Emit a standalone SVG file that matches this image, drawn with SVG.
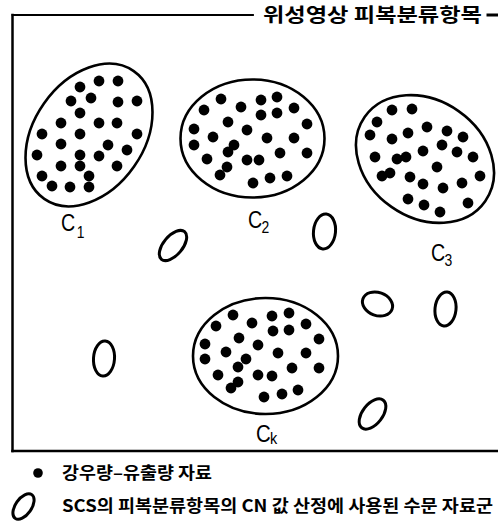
<svg xmlns="http://www.w3.org/2000/svg" width="498" height="530" viewBox="0 0 498 530">
<style>
.frame{stroke:#000;fill:none;stroke-linecap:square}
.big{fill:none;stroke:#000;stroke-width:2.6}
.small{fill:none;stroke:#000;stroke-width:3}
.dot{fill:#000}
.lbl{font-family:"Liberation Sans",Arial,sans-serif;font-size:24px;fill:#000}
.sub{font-size:17px}
.kr{font-family:"Noto Sans CJK KR","Noto Sans",sans-serif;font-weight:bold;fill:#000}
</style>
<defs>
<circle id="d" r="5.4" class="dot"/>
</defs>
<g id="frame">
<line class="frame" x1="12.5" y1="15" x2="12.5" y2="451" stroke-width="2.5"/>
<line class="frame" x1="12.5" y1="15" x2="253" y2="15" stroke-width="1.8"/>
<line class="frame" x1="12.5" y1="451" x2="498" y2="451" stroke-width="2.5"/>
<line class="frame" x1="488" y1="15" x2="497" y2="15" stroke-width="3"/>
<text class="kr" x="263" y="22" font-size="19" textLength="219" lengthAdjust="spacingAndGlyphs">위성영상 피복분류항목</text>
</g>
<g id="c1">
<ellipse class="big" cx="89" cy="135" rx="78" ry="55" transform="rotate(-55 89 135)"/>
<use href="#d" x="80" y="87"/><use href="#d" x="99" y="81"/><use href="#d" x="118" y="81"/>
<use href="#d" x="71" y="101"/><use href="#d" x="91" y="98"/><use href="#d" x="118" y="102"/><use href="#d" x="137" y="101"/>
<use href="#d" x="80" y="113"/><use href="#d" x="61" y="123"/><use href="#d" x="99" y="123"/><use href="#d" x="117" y="123"/>
<use href="#d" x="42" y="134"/><use href="#d" x="80" y="134"/><use href="#d" x="137" y="134"/>
<use href="#d" x="61" y="144"/><use href="#d" x="108" y="145"/><use href="#d" x="37" y="155"/><use href="#d" x="80" y="155"/>
<use href="#d" x="99" y="156"/><use href="#d" x="127" y="150"/><use href="#d" x="61" y="166"/><use href="#d" x="80" y="166"/>
<use href="#d" x="117" y="166"/><use href="#d" x="42" y="176"/><use href="#d" x="89" y="176"/><use href="#d" x="52" y="186"/>
<use href="#d" x="70" y="187"/><use href="#d" x="89" y="187"/>
<text class="lbl" transform="translate(61 231) scale(0.82 1)">C<tspan class="sub" dx="2" dy="7">1</tspan></text>
</g>
<g id="c2">
<ellipse class="big" cx="252.5" cy="138.5" rx="72" ry="59"/>
<use href="#d" x="221" y="99"/><use href="#d" x="204" y="110"/><use href="#d" x="241" y="107"/><use href="#d" x="261" y="100"/>
<use href="#d" x="277" y="97"/><use href="#d" x="294" y="108"/><use href="#d" x="261" y="115"/><use href="#d" x="277" y="113"/>
<use href="#d" x="307" y="124"/><use href="#d" x="194" y="129"/><use href="#d" x="228" y="122"/><use href="#d" x="247" y="130"/>
<use href="#d" x="213" y="137"/><use href="#d" x="194" y="145"/><use href="#d" x="234" y="145"/><use href="#d" x="228" y="152"/>
<use href="#d" x="267" y="138"/><use href="#d" x="294" y="138"/><use href="#d" x="307" y="153"/><use href="#d" x="280" y="153"/>
<use href="#d" x="207" y="159"/><use href="#d" x="247" y="160"/><use href="#d" x="259" y="160"/><use href="#d" x="227" y="167"/>
<use href="#d" x="220" y="175"/><use href="#d" x="287" y="176"/><use href="#d" x="270" y="178"/><use href="#d" x="253" y="183"/>
<text class="lbl" transform="translate(248 228) scale(0.82 1)">C<tspan class="sub" dx="-1" dy="5">2</tspan></text>
</g>
<g id="c3">
<ellipse class="big" cx="425" cy="159" rx="73.5" ry="58.5" transform="rotate(35 425 159)"/>
<use href="#d" x="392" y="110"/><use href="#d" x="412" y="109"/><use href="#d" x="377" y="122"/><use href="#d" x="370" y="135"/>
<use href="#d" x="392" y="139"/><use href="#d" x="408" y="133"/><use href="#d" x="427" y="127"/><use href="#d" x="447" y="131"/>
<use href="#d" x="463" y="137"/><use href="#d" x="442" y="145"/><use href="#d" x="423" y="151"/><use href="#d" x="457" y="152"/>
<use href="#d" x="473" y="157"/><use href="#d" x="375" y="157"/><use href="#d" x="397" y="159"/><use href="#d" x="406" y="157"/>
<use href="#d" x="437" y="167"/><use href="#d" x="480" y="176"/><use href="#d" x="382" y="176"/><use href="#d" x="390" y="173"/>
<use href="#d" x="410" y="177"/><use href="#d" x="423" y="184"/><use href="#d" x="443" y="188"/><use href="#d" x="462" y="183"/>
<use href="#d" x="408" y="199"/><use href="#d" x="424" y="205"/><use href="#d" x="440" y="212"/><use href="#d" x="468" y="203"/>
<text class="lbl" transform="translate(431 261) scale(0.82 1)">C<tspan class="sub" dx="-1" dy="5">3</tspan></text>
</g>
<g id="ck">
<ellipse class="big" cx="265.5" cy="356" rx="72.5" ry="58"/>
<use href="#d" x="233" y="315"/><use href="#d" x="216" y="326"/><use href="#d" x="252" y="323"/><use href="#d" x="272" y="316"/>
<use href="#d" x="289" y="313"/><use href="#d" x="273" y="331"/><use href="#d" x="289" y="330"/><use href="#d" x="306" y="324"/>
<use href="#d" x="319" y="339"/><use href="#d" x="239" y="338"/><use href="#d" x="258" y="345"/><use href="#d" x="205" y="344"/>
<use href="#d" x="226" y="352"/><use href="#d" x="205" y="359"/><use href="#d" x="278" y="353"/><use href="#d" x="306" y="353"/>
<use href="#d" x="246" y="359"/><use href="#d" x="238" y="367"/><use href="#d" x="319" y="368"/><use href="#d" x="292" y="368"/>
<use href="#d" x="218" y="375"/><use href="#d" x="258" y="375"/><use href="#d" x="272" y="376"/><use href="#d" x="238" y="382"/>
<use href="#d" x="231" y="388"/><use href="#d" x="298" y="390"/><use href="#d" x="282" y="394"/><use href="#d" x="264" y="397"/>
<text class="lbl" transform="translate(256 442) scale(0.85 1)">C<tspan class="sub" dx="-1" dy="2">k</tspan></text>
</g>
<g id="scs-groups">
<ellipse class="small" cx="173" cy="245.5" rx="9.5" ry="18" transform="rotate(40 173 245.5)"/>
<ellipse class="small" cx="324.5" cy="231.5" rx="11" ry="17.5" transform="rotate(6 324.5 231.5)"/>
<ellipse class="small" cx="104" cy="358.5" rx="10.5" ry="17.5" transform="rotate(4 104 358.5)"/>
<ellipse class="small" cx="377.5" cy="304" rx="15.5" ry="11.5" transform="rotate(20 377.5 304)"/>
<ellipse class="small" cx="445.5" cy="309" rx="10.5" ry="17" transform="rotate(6 445.5 309)"/>
<ellipse class="small" cx="372.5" cy="414" rx="10" ry="17.5" transform="rotate(38 372.5 414)"/>
</g>
<g id="legend">
<circle cx="38" cy="473" r="4.8" class="dot"/>
<text class="kr" x="62" y="479" font-size="17" textLength="150" lengthAdjust="spacingAndGlyphs">강우량–유출량 자료</text>
<ellipse class="small" cx="23.5" cy="506.5" rx="8" ry="14.5" transform="rotate(35 23.5 506.5)"/>
<text class="kr" x="62" y="512" font-size="17" textLength="431" lengthAdjust="spacingAndGlyphs">SCS의 피복분류항목의 CN 값 산정에 사용된 수문 자료군</text>
</g>
</svg>
